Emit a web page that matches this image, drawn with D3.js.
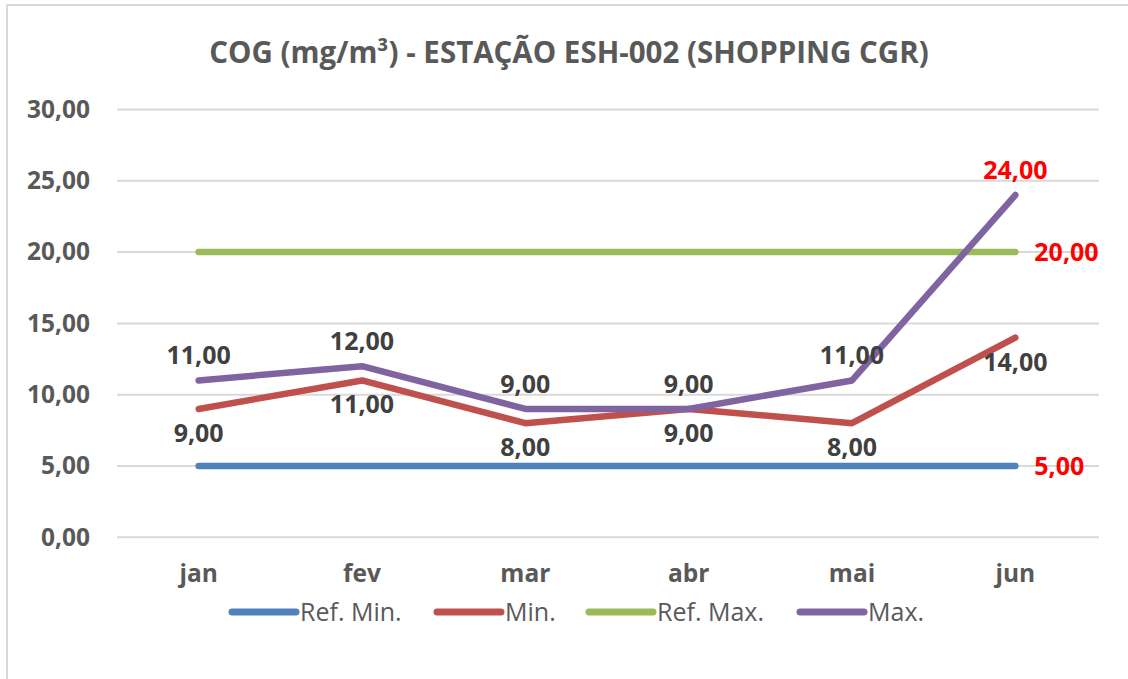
<!DOCTYPE html>
<html>
<head>
<meta charset="utf-8">
<script src="https://cdn.jsdelivr.net/npm/d3@7"></script>
<style>
  html, body { margin: 0; padding: 0; background: #fff; }
  svg { display: block; font-family: "Open Sans", sans-serif; }
</style>
</head>
<body>
<svg id="chart" width="1128" height="679"></svg>
<script>
const categories = ["jan", "fev", "mar", "abr", "mai", "jun"];
const refMinValues = [5, 5, 5, 5, 5, 5];
const minValues = [9, 11, 8, 9, 8, 14];
const refMaxValues = [20, 20, 20, 20, 20, 20];
const maxValues = [11, 12, 9, 9, 11, 24];
const yTickValues = [0, 5, 10, 15, 20, 25, 30];
const seriesNames = ["Ref. Min.", "Min.", "Ref. Max.", "Max."];
const titleText = "COG (mg/m³) - ESTAÇÃO ESH-002 (SHOPPING CGR)";

const series = [
  { name: seriesNames[0], values: refMinValues, color: "#4F81BD", label: "lastRight" },
  { name: seriesNames[1], values: minValues, color: "#C0504D", label: "below" },
  { name: seriesNames[2], values: refMaxValues, color: "#9BBB59", label: "lastRight" },
  { name: seriesNames[3], values: maxValues, color: "#8064A2", label: "above" }
];

const svg = d3.select("#chart");
const plot = { left: 117, right: 1097, top: 109.5, bottom: 537.3, gridRight: 1099 };

const fmt = d3.formatLocale({ decimal: ",", thousands: ".", grouping: [3], currency: ["R$", ""] }).format(".2f");

// border
svg.append("rect").attr("x", 7).attr("y", 5).attr("width", 1140).attr("height", 700)
  .attr("fill", "#fff").attr("stroke", "#D9D9D9").attr("stroke-width", 2);

const x = d3.scaleBand().domain(categories).range([plot.left, plot.right]).padding(0);
const cx = d => x(d) + x.bandwidth() / 2;
const y = d3.scaleLinear().domain([0, 30]).range([plot.bottom, plot.top]);

// title
svg.append("text").attr("x", 569).attr("y", 63).attr("text-anchor", "middle")
  .attr("font-size", 29.5).attr("font-weight", 700).attr("fill", "#595959")
  .text(titleText);

// gridlines
svg.append("g").selectAll("line").data(yTickValues).join("line")
  .attr("x1", plot.left).attr("x2", plot.gridRight)
  .attr("y1", d => y(d)).attr("y2", d => y(d))
  .attr("stroke", "#D9D9D9").attr("stroke-width", 2);

// y axis
const yAxis = svg.append("g").attr("transform", `translate(${plot.left},0)`)
  .call(d3.axisLeft(y).tickValues(yTickValues).tickFormat(fmt).tickSize(0).tickPadding(27));
yAxis.select(".domain").remove();
yAxis.selectAll("text").attr("font-family", "Open Sans").attr("font-size", 24.5)
  .attr("font-weight", 700).attr("fill", "#595959");

// x axis
const xAxis = svg.append("g").attr("transform", `translate(0,${plot.bottom})`)
  .call(d3.axisBottom(x).tickSize(0).tickPadding(27));
xAxis.select(".domain").remove();
xAxis.selectAll("text").attr("font-family", "Open Sans").attr("font-size", 24.5)
  .attr("font-weight", 700).attr("fill", "#595959");

// lines
const line = d3.line().x((d, i) => cx(categories[i])).y(d => y(d));
svg.append("g").selectAll("path").data(series).join("path")
  .attr("d", s => line(s.values))
  .attr("fill", "none").attr("stroke", s => s.color).attr("stroke-width", 6.5)
  .attr("stroke-linejoin", "round").attr("stroke-linecap", "round");

// data labels
const labelG = svg.append("g").attr("font-size", 25).attr("font-weight", 700);
series.forEach(s => {
  s.values.forEach((v, i) => {
    const last = i === s.values.length - 1;
    const px = cx(categories[i]), py = y(v);
    if (s.label === "lastRight") {
      if (!last) return;
      labelG.append("text").attr("x", px + 19).attr("y", py).attr("dy", "0.36em")
        .attr("fill", "#FF0000").text(fmt(v));
    } else if (s.label === "above") {
      labelG.append("text").attr("x", px).attr("y", py - 16).attr("text-anchor", "middle")
        .attr("fill", last ? "#FF0000" : "#404040").text(fmt(v));
    } else {
      labelG.append("text").attr("x", px).attr("y", py + 33).attr("text-anchor", "middle")
        .attr("fill", "#404040").text(fmt(v));
    }
  });
});

// legend
const legendStarts = [232, 437, 589, 800];
const legend = svg.append("g");
series.forEach((s, i) => {
  const g = legend.append("g").attr("transform", `translate(${legendStarts[i]},612)`);
  g.append("line").attr("x1", 0).attr("x2", 64).attr("y1", 0).attr("y2", 0)
    .attr("stroke", s.color).attr("stroke-width", 7).attr("stroke-linecap", "round");
  g.append("text").attr("x", 68).attr("y", 0).attr("dy", "0.36em")
    .attr("font-size", 25).attr("fill", "#595959").text(s.name);
});
</script>
</body>
</html>
